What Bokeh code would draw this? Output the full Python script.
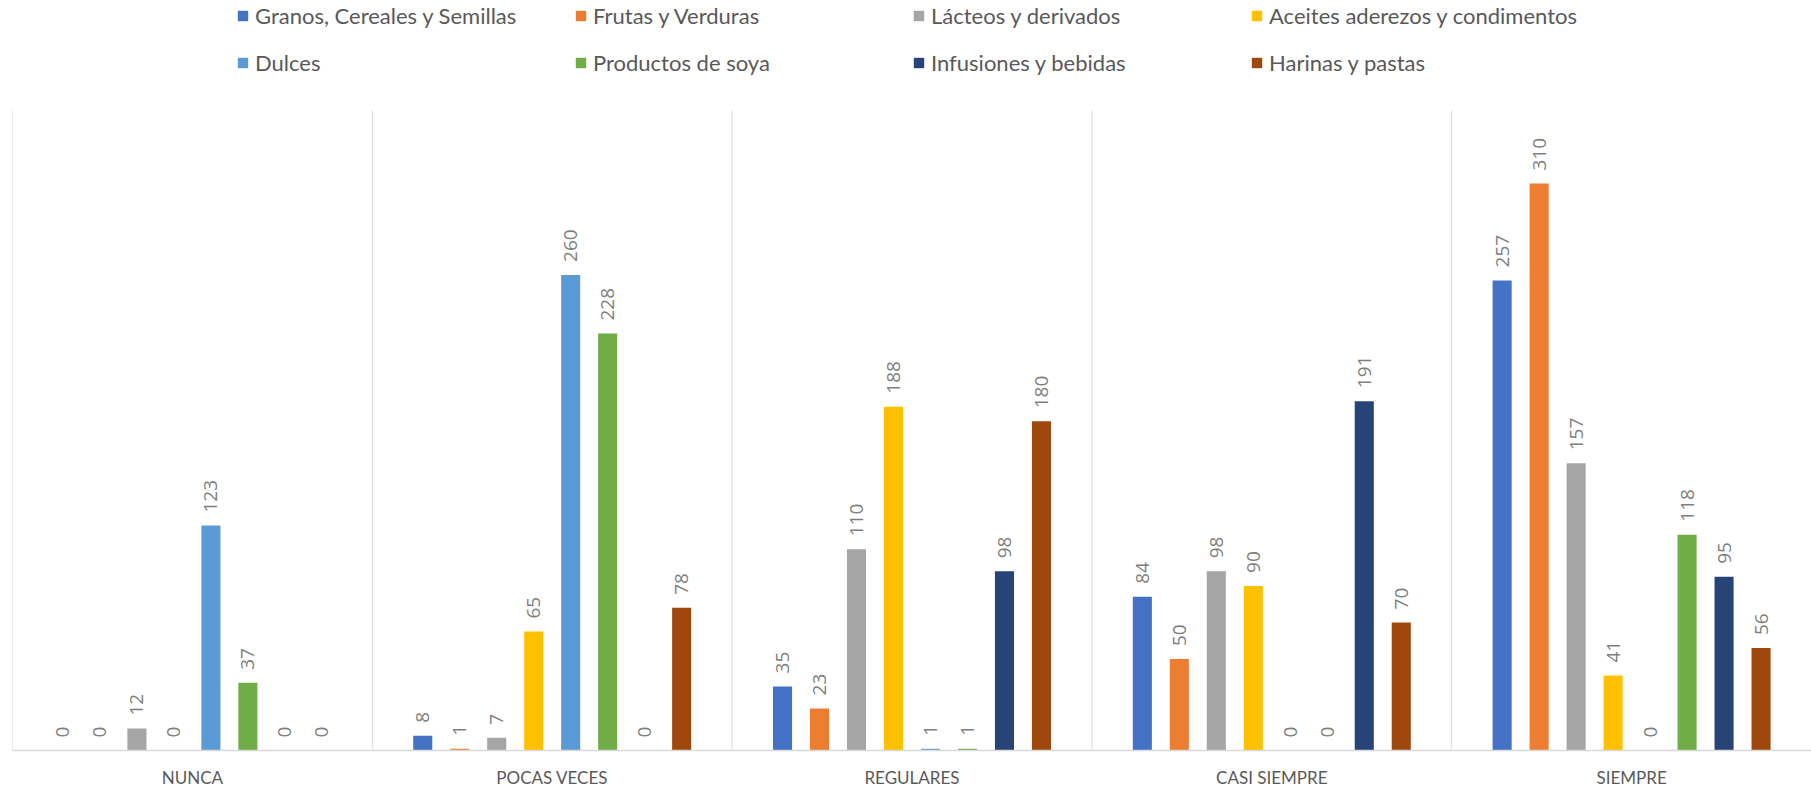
import math
from bokeh.plotting import figure
from bokeh.models import ColumnDataSource, FactorRange, Legend, LegendItem, Range1d
from bokeh.transform import dodge
from bokeh.core.properties import value
from bokeh.embed import file_html
from bokeh.resources import INLINE

categories = ["NUNCA", "POCAS VECES", "REGULARES", "CASI SIEMPRE", "SIEMPRE"]
series_names = [
    "Granos, Cereales y Semillas",
    "Frutas y Verduras",
    "Lácteos y derivados",
    "Aceites aderezos y condimentos",
    "Dulces",
    "Productos de soya",
    "Infusiones y bebidas",
    "Harinas y pastas",
]
granos = [0, 8, 35, 84, 257]
frutas = [0, 1, 23, 50, 310]
lacteos = [12, 7, 110, 98, 157]
aceites = [0, 65, 188, 90, 41]
dulces = [123, 260, 1, 0, 0]
soya = [37, 228, 1, 0, 118]
infusiones = [0, 0, 98, 191, 95]
harinas = [0, 78, 180, 70, 56]
series_values = [granos, frutas, lacteos, aceites, dulces, soya, infusiones, harinas]
colors = ["#4472C4", "#ED7D31", "#A5A5A5", "#FFC000", "#5B9BD5", "#70AD47", "#264478", "#9E480E"]

y_max = 350

data = {"cat": categories}
for i, vals in enumerate(series_values):
    data[f"s{i}"] = vals
    data[f"l{i}"] = [str(v) for v in vals]
src = ColumnDataSource(data)

W, H = 1811, 790
border_bottom = 39
plot_top = 110
frame_h = H - border_bottom
y_top = y_max * frame_h / (frame_h - plot_top)

p = figure(
    x_range=FactorRange(*categories, range_padding=0),
    y_range=Range1d(0, y_top),
    width=W, height=H,
    output_backend="svg", toolbar_location=None,
    min_border_left=12, min_border_right=0, min_border_top=0, min_border_bottom=border_bottom,
)
p.yaxis.visible = False
p.xgrid.visible = False
p.ygrid.visible = False
p.outline_line_color = None
p.background_fill_color = "white"

bounds = list(range(len(categories) + 1))
p.segment(x0=bounds, y0=[0] * len(bounds), x1=bounds, y1=[y_max] * len(bounds),
          line_color="#d9d9d9", line_width=1)

pitch = 0.1028
bar_w = 0.053
items = []
n = len(series_names)
for i, name in enumerate(series_names):
    off = (i - (n - 1) / 2) * pitch
    r = p.vbar(x=dodge("cat", off, range=p.x_range), top=f"s{i}", width=bar_w,
               bottom=0, source=src, fill_color=colors[i], line_color=None)
    p.text(x=dodge("cat", off, range=p.x_range), y=f"s{i}", text=f"l{i}", source=src,
           angle=math.pi / 2, text_align="left", text_baseline="middle",
           y_offset=-13, text_font=value("Open Sans"), text_font_size="19px",
           text_color="#7f7f7f")
    items.append(LegendItem(label=name, renderers=[r]))

ax = p.xaxis[0]
ax.axis_line_color = "#d9d9d9"
ax.axis_line_width = 1.5
ax.major_tick_line_color = None
ax.minor_tick_line_color = None
ax.major_tick_out = 0
ax.major_label_standoff = 16
ax.major_label_text_font = "Lato"
ax.major_label_text_font_size = "17px"
ax.major_label_text_color = "#595959"

legend = Legend(
    items=items, location=(224, frame_h - 77), orientation="horizontal", ncols=4,
    border_line_color=None, background_fill_alpha=0,
    label_text_font="Lato", label_text_font_size="22px", label_text_color="#595959",
    glyph_width=13, glyph_height=13, label_standoff=6, spacing=20,
    padding=0, margin=0, label_height=20, label_width=299,
)
p.add_layout(legend, "center")

open("out.html", "w").write(file_html(p, INLINE))
